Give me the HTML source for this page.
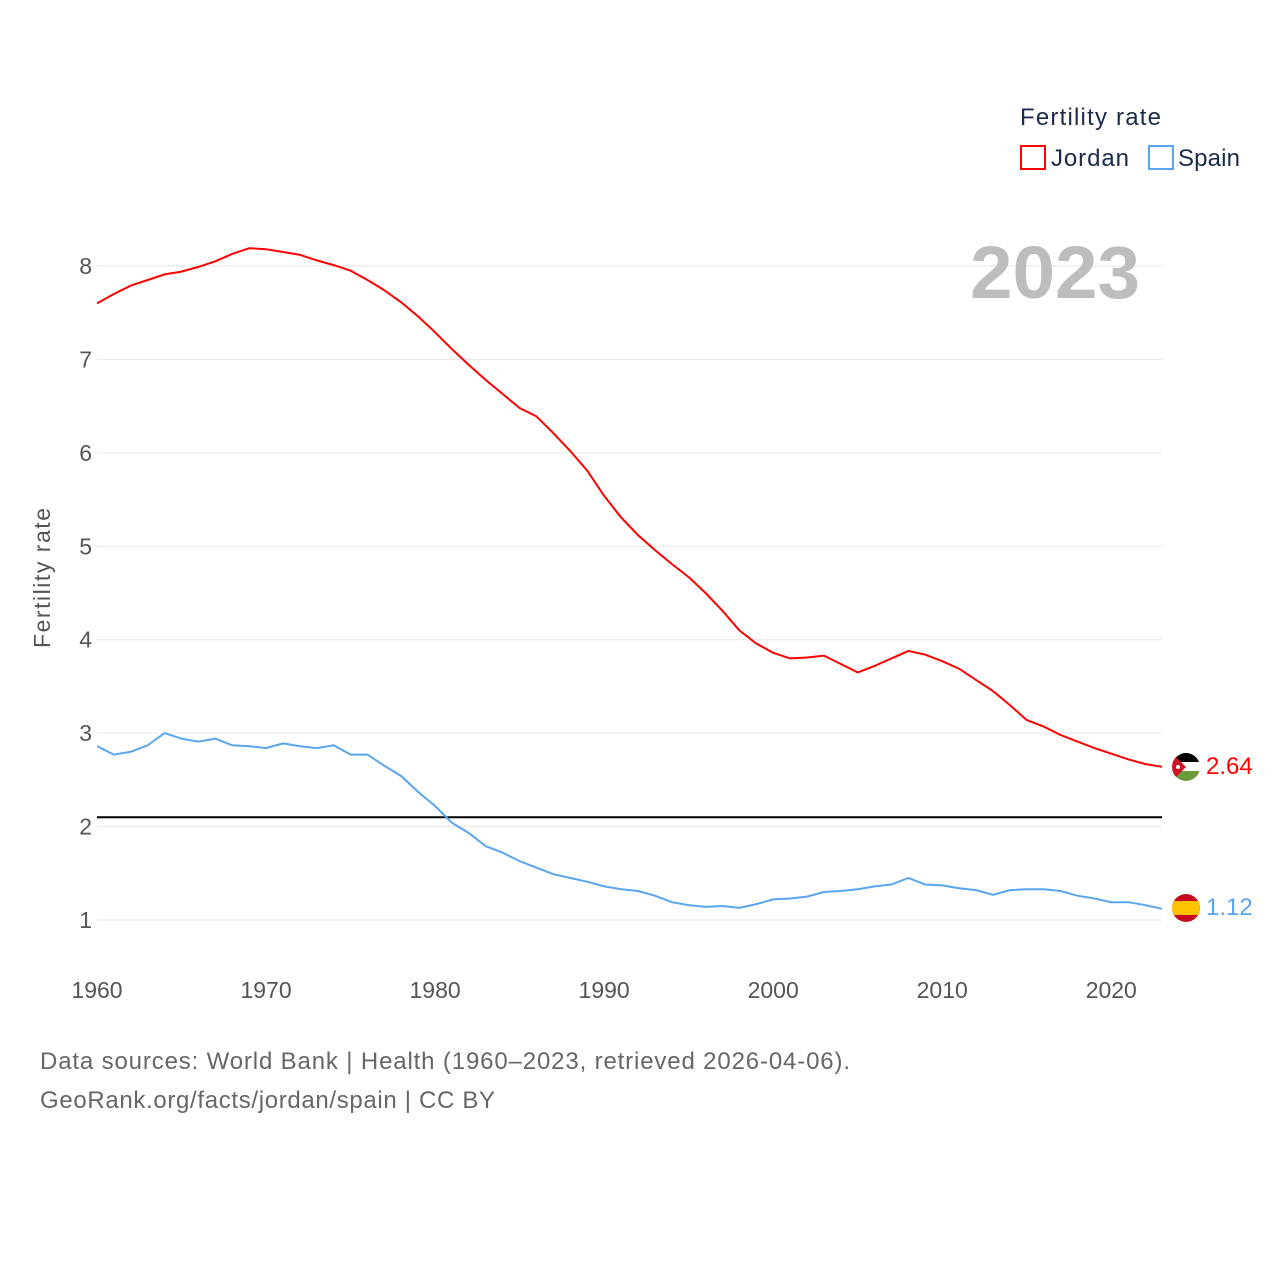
<!DOCTYPE html>
<html><head><meta charset="utf-8"><style>
body{margin:0;background:#fff;font-family:"Liberation Sans",sans-serif}
svg text{font-family:"Liberation Sans",sans-serif}
</style></head><body>
<svg id="chart" width="1280" height="1280" viewBox="0 0 1280 1280">
<g id="grid"></g>
<g id="lines"></g>
<g id="xaxis"></g>
<text x="970" y="298" textLength="170" lengthAdjust="spacingAndGlyphs" font-size="74" font-weight="bold" fill="#bdbdbd">2023</text>
<text x="50" y="578" transform="rotate(-90 50 578)" text-anchor="middle" textLength="140" font-size="23" fill="#555">Fertility rate</text>
<text x="1020" y="125" textLength="141" font-size="24" fill="#1b2a48">Fertility rate</text>
<g><rect x="1021" y="146" width="24" height="23" fill="none" stroke="#f00" stroke-width="2"/><text x="1051" y="166" textLength="78" font-size="24" fill="#1b2a48">Jordan</text></g>
<g><rect x="1149" y="146" width="24" height="23" fill="none" stroke="#5aa5ef" stroke-width="2"/><text x="1178" y="166" textLength="62" font-size="24" fill="#1b2a48">Spain</text></g>
<text x="40" y="1069" textLength="810" font-size="24" fill="#666">Data sources: World Bank | Health (1960–2023, retrieved 2026-04-06).</text>
<text x="40" y="1108" textLength="455" font-size="24" fill="#666">GeoRank.org/facts/jordan/spain | CC BY</text>
<defs>
<clipPath id="cj"><circle cx="1186" cy="767" r="14"/></clipPath>
<clipPath id="cs"><circle cx="1186" cy="908" r="14"/></clipPath>
</defs>
<g clip-path="url(#cj)">
<rect x="1172" y="753" width="28" height="10" fill="#000"/><rect x="1172" y="762" width="28" height="10" fill="#fff"/><rect x="1172" y="771" width="28" height="10" fill="#6a9a3a"/>
<polygon points="1172,753 1186,767 1172,781" fill="#ce1126"/><circle cx="1178" cy="767" r="2" fill="#fff"/></g>
<g clip-path="url(#cs)">
<rect x="1172" y="894" width="28" height="28" fill="#c60b1e"/><rect x="1172" y="901" width="28" height="14" fill="#ffc400"/></g>
<text x="1206" y="774" font-size="24" fill="#f00">2.64</text>
<text x="1206" y="915" font-size="24" fill="#5aa5ef">1.12</text>
</svg>
<script>
const years=[];for(let y=1960;y<=2023;y++)years.push(y);
const jordan=[7.60,7.70,7.79,7.85,7.91,7.94,7.99,8.05,8.13,8.19,8.18,8.15,8.12,8.06,8.01,7.95,7.85,7.74,7.61,7.46,7.29,7.11,6.94,6.78,6.63,6.48,6.39,6.21,6.02,5.81,5.54,5.31,5.12,4.96,4.81,4.67,4.50,4.31,4.10,3.96,3.86,3.80,3.81,3.83,3.74,3.65,3.72,3.80,3.88,3.84,3.77,3.69,3.57,3.45,3.30,3.14,3.07,2.98,2.91,2.84,2.78,2.72,2.67,2.64];
const spain=[2.86,2.77,2.80,2.87,3.00,2.94,2.91,2.94,2.87,2.86,2.84,2.89,2.86,2.84,2.87,2.77,2.77,2.65,2.54,2.37,2.22,2.04,1.93,1.79,1.72,1.63,1.56,1.49,1.45,1.41,1.36,1.33,1.31,1.26,1.19,1.16,1.14,1.15,1.13,1.17,1.22,1.23,1.25,1.30,1.31,1.33,1.36,1.38,1.45,1.38,1.37,1.34,1.32,1.27,1.32,1.33,1.33,1.31,1.26,1.23,1.19,1.19,1.16,1.12];
const yTicks=[1,2,3,4,5,6,7,8];
const xTicks=[1960,1970,1980,1990,2000,2010,2020];
const replacement=2.1;
const X=y=>97+(y-1960)*(1162-97)/63;
const Y=v=>920-(v-1)*(920-266)/7;
const NS="http://www.w3.org/2000/svg";
function mk(t,a,p){const e=document.createElementNS(NS,t);for(const k in a)e.setAttribute(k,a[k]);p.appendChild(e);return e;}
const grid=document.getElementById('grid');
yTicks.forEach(v=>{
 const l=mk('line',{x1:97,x2:1162,y1:Y(v),y2:Y(v),stroke:'#e6e6e6','stroke-width':1},grid);
 
 
 const t=mk('text',{x:92,y:Y(v)+8,'text-anchor':'end','font-size':23,fill:'#555'},grid);
 t.textContent=v;
 
 
});
const xa=document.getElementById('xaxis');
xTicks.forEach(y=>{
 const t=mk('text',{x:X(y),y:998,'text-anchor':'middle','font-size':23,fill:'#555'},xa);
 t.textContent=y;
 
 
});
const lines=document.getElementById('lines');
const ref=mk('line',{x1:97,x2:1162,y1:Y(replacement),y2:Y(replacement),stroke:'#000','stroke-width':2},lines);


function series(vals,color,name){
 const d=vals.map((v,i)=>(i?'L':'M')+X(years[i]).toFixed(1)+','+Y(v).toFixed(1)).join(' ');
 const p=mk('path',{d:d,fill:'none',stroke:color,'stroke-width':2},lines);
 
 
}
series(spain,'#5aa5ef','spain-line');
series(jordan,'#f00','jordan-line');
</script>
</body></html>
